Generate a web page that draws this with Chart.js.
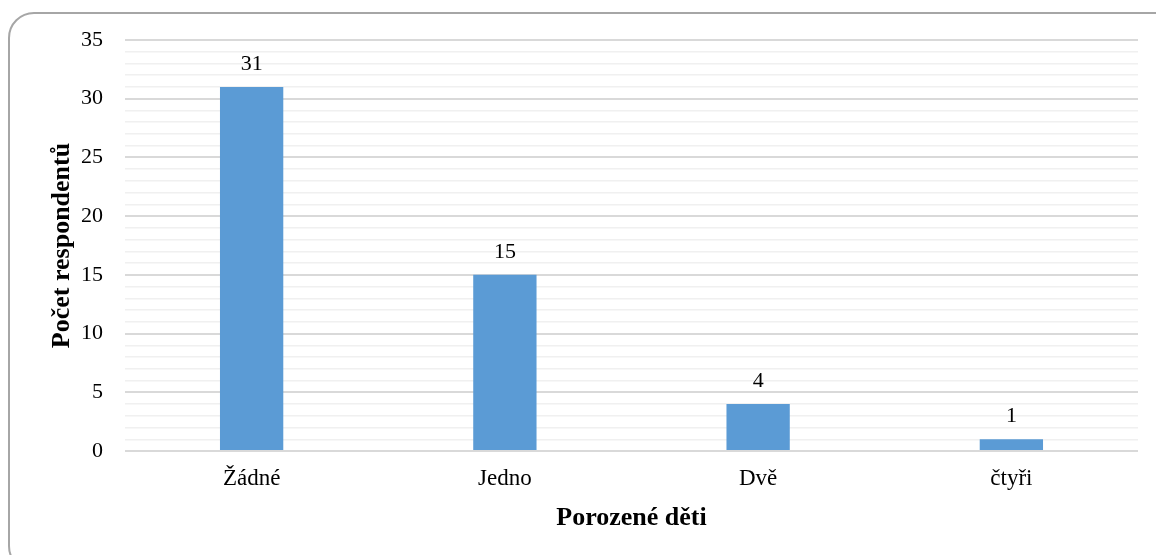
<!DOCTYPE html>
<html>
<head>
<meta charset="utf-8">
<script src="https://cdn.jsdelivr.net/npm/chart.js@4"></script>
<style>
  html, body { margin: 0; padding: 0; background: #fff; overflow: hidden; }
  #wrap { position: relative; width: 1156px; height: 555px; }
  #frame {
    position: absolute; left: 8px; top: 12px; width: 1180px; height: 560px;
    border: 2px solid #a6a6a6; border-radius: 26px; box-sizing: border-box;
  }
  canvas { position: absolute; left: 0; top: 0; }
</style>
</head>
<body>
<div id="wrap">
  <div id="frame"></div>
  <canvas id="chart" width="1156" height="555"></canvas>
</div>
<script>
const categories = ['Žádné', 'Jedno', 'Dvě', 'čtyři'];
const counts = [31, 15, 4, 1];
const yTicks = [0, 5, 10, 15, 20, 25, 30, 35];

const FONT = "'Liberation Serif', 'Times New Roman', serif";

// popisky hodnot nad sloupci
const valueLabels = {
  id: 'valueLabels',
  afterDatasetsDraw(chart) {
    const ctx = chart.ctx;
    const meta = chart.getDatasetMeta(0);
    ctx.save();
    ctx.font = '22px ' + FONT;
    ctx.fillStyle = '#000';
    ctx.textAlign = 'center';
    ctx.textBaseline = 'alphabetic';
    meta.data.forEach((bar, i) => {
      ctx.fillText(String(counts[i]), bar.x, bar.y - 17);
    });
    ctx.restore();
  }
};

new Chart(document.getElementById('chart'), {
  type: 'bar',
  data: {
    labels: categories,
    datasets: [{
      data: counts,
      backgroundColor: '#5b9bd5',
      borderWidth: 0,
      categoryPercentage: 1,
      barPercentage: 0.25
    }]
  },
  options: {
    responsive: false,
    animation: false,
    layout: { padding: { left: 43, right: 18, top: 40, bottom: 17 } },
    plugins: { legend: { display: false }, tooltip: { enabled: false } },
    scales: {
      x: {
        grid: { display: false },
        border: { display: false },
        ticks: { color: '#000', font: { family: FONT, size: 23 }, padding: 6 },
        title: {
          display: true, text: 'Porozené děti', color: '#000',
          font: { family: FONT, size: 26, weight: 'bold' }, padding: { top: 4, bottom: 4 }
        },
        afterFit: s => { s.height = 87; }
      },
      y: {
        min: 0, max: 35,
        border: { display: false },
        grid: {
          drawTicks: false,
          color: c => (c.tick.value % 5 === 0 ? '#d9d9d9' : '#f0f0f0'),
          lineWidth: c => (c.tick.value % 5 === 0 ? 2 : 1.5)
        },
        ticks: {
          stepSize: 1, maxTicksLimit: 40, autoSkip: false,
          color: '#000', font: { family: FONT, size: 22 }, padding: 22,
          callback: v => (yTicks.includes(v) ? String(v) : '')
        },
        title: {
          display: true, text: 'Počet respondentů', color: '#000',
          font: { family: FONT, size: 26, weight: 'bold' }, padding: { top: 4, bottom: 4 }
        },
        afterFit: s => { s.width = 82; }
      }
    }
  },
  plugins: [valueLabels]
});
</script>
</body>
</html>
